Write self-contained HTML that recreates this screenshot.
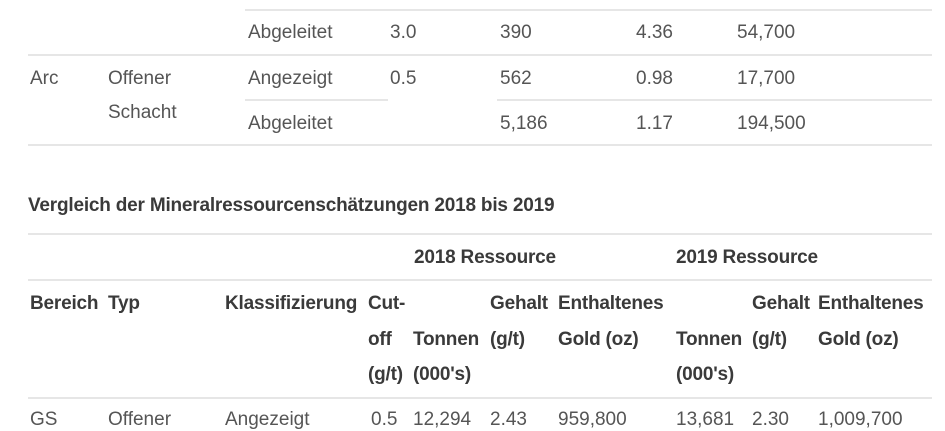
<!DOCTYPE html>
<html><head><meta charset="utf-8"><style>
body{margin:0;width:945px;height:421px;background:#fff;overflow:hidden;position:relative;font-family:"Liberation Sans",sans-serif;color:#555;}
.t{position:absolute;font-size:19px;line-height:22px;white-space:nowrap;letter-spacing:0px;transform:translateY(-50%);}
.b{font-weight:bold;color:#3a3a3a;font-size:19px;letter-spacing:-0.2px;}
.l{position:absolute;height:2px;background:#e6e6e6;}
</style></head><body>
<div class="l" style="left:245px;top:9px;width:687px"></div>
<div class="l" style="left:28px;top:54px;width:904px"></div>
<div class="l" style="left:245px;top:99px;width:143px"></div>
<div class="l" style="left:497px;top:99px;width:435px"></div>
<div class="l" style="left:28px;top:144px;width:904px"></div>

<div class="t" style="left:248px;top:33px">Abgeleitet</div>
<div class="t" style="left:390px;top:33px">3.0</div>
<div class="t" style="left:500px;top:33px">390</div>
<div class="t" style="left:636px;top:33px">4.36</div>
<div class="t" style="left:737px;top:33px">54,700</div>

<div class="t" style="left:30px;top:79px">Arc</div>
<div class="t" style="left:108px;top:79px">Offener</div>
<div class="t" style="left:108px;top:113px">Schacht</div>
<div class="t" style="left:248px;top:79px">Angezeigt</div>
<div class="t" style="left:390px;top:79px">0.5</div>
<div class="t" style="left:500px;top:79px">562</div>
<div class="t" style="left:636px;top:79px">0.98</div>
<div class="t" style="left:737px;top:79px">17,700</div>
<div class="t" style="left:248px;top:124px">Abgeleitet</div>
<div class="t" style="left:500px;top:124px">5,186</div>
<div class="t" style="left:636px;top:124px">1.17</div>
<div class="t" style="left:737px;top:124px">194,500</div>

<div class="t b" style="left:28px;top:206px;">Vergleich der Mineralressourcenschätzungen 2018 bis 2019</div>

<div class="l" style="left:28px;top:233px;width:904px"></div>
<div class="t b" style="left:414px;top:258px">2018 Ressource</div>
<div class="t b" style="left:676px;top:258px">2019 Ressource</div>
<div class="l" style="left:28px;top:279px;width:904px"></div>

<div class="t b" style="left:30px;top:304px">Bereich</div>
<div class="t b" style="left:108px;top:304px">Typ</div>
<div class="t b" style="left:225px;top:304px">Klassifizierung</div>
<div class="t b" style="left:368px;top:304px">Cut-</div>
<div class="t b" style="left:490px;top:304px">Gehalt</div>
<div class="t b" style="left:558px;top:304px">Enthaltenes</div>
<div class="t b" style="left:752px;top:304px">Gehalt</div>
<div class="t b" style="left:818px;top:304px">Enthaltenes</div>

<div class="t b" style="left:368px;top:340px">off</div>
<div class="t b" style="left:413px;top:340px">Tonnen</div>
<div class="t b" style="left:490px;top:340px">(g/t)</div>
<div class="t b" style="left:558px;top:340px">Gold (oz)</div>
<div class="t b" style="left:676px;top:340px">Tonnen</div>
<div class="t b" style="left:752px;top:340px">(g/t)</div>
<div class="t b" style="left:818px;top:340px">Gold (oz)</div>

<div class="t b" style="left:368px;top:375px">(g/t)</div>
<div class="t b" style="left:413px;top:375px">(000's)</div>
<div class="t b" style="left:676px;top:375px">(000's)</div>
<div class="l" style="left:28px;top:397px;width:904px"></div>

<div class="t" style="left:30px;top:420px">GS</div>
<div class="t" style="left:108px;top:420px">Offener</div>
<div class="t" style="left:225px;top:420px">Angezeigt</div>
<div class="t" style="left:371px;top:420px">0.5</div>
<div class="t" style="left:413px;top:420px">12,294</div>
<div class="t" style="left:490px;top:420px">2.43</div>
<div class="t" style="left:558px;top:420px">959,800</div>
<div class="t" style="left:676px;top:420px">13,681</div>
<div class="t" style="left:752px;top:420px">2.30</div>
<div class="t" style="left:818px;top:420px">1,009,700</div>
</body></html>
